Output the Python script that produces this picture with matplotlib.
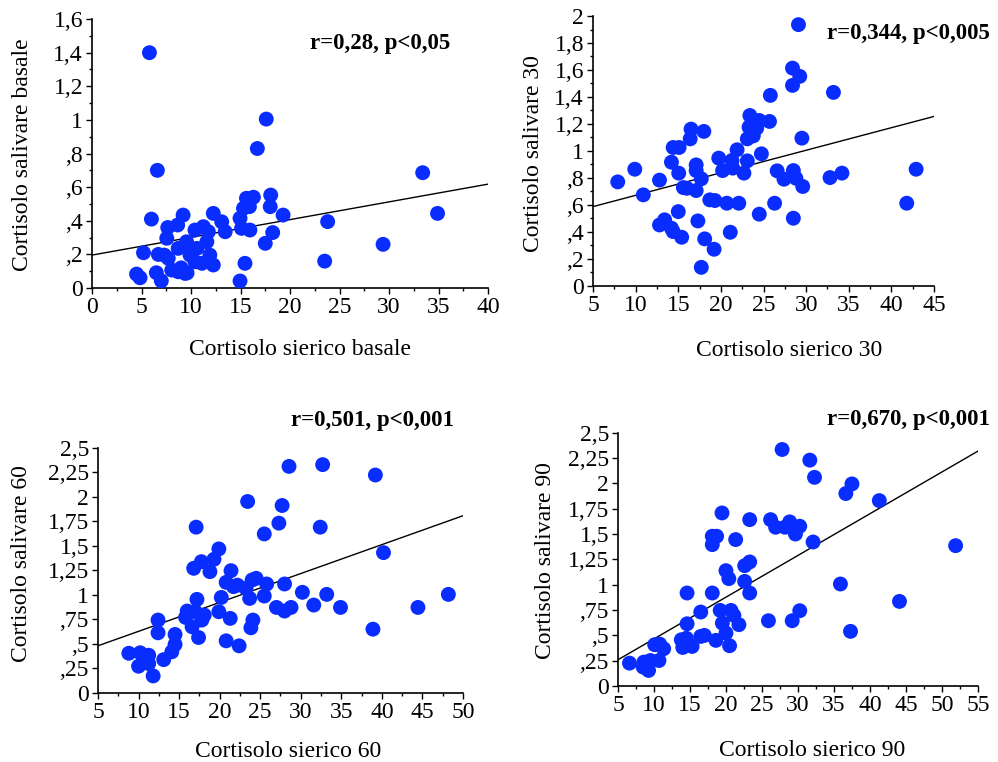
import matplotlib
matplotlib.use("Agg")
import matplotlib.pyplot as plt
from matplotlib.ticker import MultipleLocator, FuncFormatter

plt.rcParams['font.family'] = ['Liberation Serif', 'DejaVu Serif']

# --- data ---
# basale
x_basale = [5.8, 6.6, 6.0, 5.2, 4.5, 4.85, 6.5, 7.0, 6.7, 7.3, 7.7, 7.65, 7.55, 8.65,
            9.2, 8.05, 8.7, 9.4, 8.7, 9.55, 9.9, 10.4, 10.4, 10.6, 11.1, 11.25, 11.75,
            11.6, 11.9, 12.25, 12.25, 13.1, 13.45, 14.95, 15.3, 15.6, 15.1, 15.95, 15.45,
            14.95, 15.9, 16.3, 16.7, 17.6, 18.05, 18.0, 17.5, 18.25, 19.3, 23.5, 23.8,
            29.4, 33.4, 34.9, 9.6, 9.0]
y_basale = [1.40, 0.70, 0.41, 0.21, 0.083, 0.061, 0.091, 0.043, 0.20, 0.196, 0.177, 0.36,
            0.296, 0.375, 0.434, 0.107, 0.097, 0.087, 0.236, 0.275, 0.196, 0.345, 0.156,
            0.236, 0.147, 0.365, 0.335, 0.275, 0.196, 0.137, 0.444, 0.394, 0.335, 0.415,
            0.474, 0.534, 0.355, 0.345, 0.147, 0.042, 0.484, 0.54, 0.83, 1.005, 0.553,
            0.484, 0.266, 0.33, 0.434, 0.16, 0.395, 0.26, 0.686, 0.444, 0.09, 0.12]

# 30 min
x_30 = [29.1, 28.4, 29.25, 28.4, 33.2, 25.8, 23.4, 24.5, 25.7, 23.3, 24.2, 23.8, 23.1,
        29.5, 16.5, 18.0, 16.4, 14.4, 15.1, 21.9, 24.75, 19.75, 21.3, 23.1, 14.2, 17.1,
        21.4, 17.1, 20.2, 15.05, 22.7, 26.6, 28.5, 9.9, 42.9, 34.2, 32.8, 7.9, 12.8,
        17.7, 27.4, 28.8, 29.6, 15.6, 16.0, 17.1, 10.9, 18.7, 19.3, 20.7, 22.1, 26.3,
        41.8, 15.0, 24.5, 28.5, 13.4, 12.8, 17.3, 14.2, 14.4, 21.1, 15.4, 18.1, 19.2, 17.7]
y_30 = [1.936, 1.614, 1.553, 1.486, 1.434, 1.412, 1.263, 1.226, 1.219, 1.177, 1.169, 1.112,
        1.09, 1.095, 1.162, 1.145, 1.09, 1.026, 1.026, 1.009, 0.979, 0.947, 0.93, 0.927,
        0.917, 0.897, 0.873, 0.855, 0.855, 0.836, 0.836, 0.853, 0.855, 0.865, 0.865,
        0.836, 0.803, 0.771, 0.784, 0.794, 0.791, 0.798, 0.737, 0.729, 0.724, 0.707,
        0.675, 0.638, 0.633, 0.613, 0.613, 0.613, 0.613, 0.551, 0.532, 0.502, 0.49,
        0.452, 0.482, 0.428, 0.403, 0.398, 0.361, 0.349, 0.272, 0.138]

# 60 min
x_60 = [28.55, 32.7, 39.2, 23.45, 27.7, 27.3, 17.1, 32.4, 25.5, 19.9, 40.2, 19.3, 17.75,
        16.8, 18.8, 21.4, 24.5, 24.0, 20.8, 25.8, 28.0, 21.7, 22.2, 23.25, 30.2, 33.2,
        48.2, 25.5, 20.2, 23.7, 17.2, 31.6, 34.9, 44.45, 27.0, 28.8, 28.0, 16.0, 17.0,
        18.1, 15.8, 19.9, 21.3, 17.8, 12.4, 24.1, 23.85, 16.6, 38.9, 12.4, 14.5, 17.4,
        20.8, 14.5, 22.4, 14.1, 8.8, 10.2, 11.25, 10.6, 10.0, 11.25, 13.1, 11.8]
y_60 = [2.312, 2.33, 2.224, 1.954, 1.913, 1.733, 1.692, 1.692, 1.623, 1.47, 1.432, 1.364,
        1.34, 1.272, 1.238, 1.248, 1.17, 1.153, 1.129, 1.112, 1.112, 1.085, 1.10, 1.067,
        1.027, 1.006, 1.006, 0.989, 0.975, 0.965, 0.955, 0.897, 0.873, 0.873, 0.873,
        0.873, 0.836, 0.836, 0.829, 0.795, 0.771, 0.829, 0.761, 0.744, 0.744, 0.744,
        0.665, 0.675, 0.651, 0.614, 0.597, 0.566, 0.532, 0.495, 0.481, 0.42, 0.405,
        0.41, 0.385, 0.334, 0.273, 0.30, 0.34, 0.174]

# 90 min
x_90 = [27.8, 31.65, 32.3, 37.5, 36.65, 41.3, 19.45, 23.3, 26.2, 26.9, 28.2, 28.85, 30.25,
        29.65, 18.1, 18.7, 18.1, 21.35, 32.1, 51.9, 23.3, 22.6, 20.0, 20.4, 22.6, 35.9,
        14.6, 18.1, 23.3, 44.1, 16.5, 19.2, 20.7, 21.1, 30.25, 19.5, 14.6, 21.8, 25.9,
        29.2, 37.3, 20.0, 16.5, 17.0, 18.6, 13.8, 14.5, 14.0, 15.3, 20.5, 10.1, 10.8,
        11.35, 10.7, 9.5, 8.6, 6.6, 8.5, 9.25, 9.1]
y_90 = [2.335, 2.23, 2.06, 1.995, 1.90, 1.83, 1.708, 1.642, 1.642, 1.567, 1.567, 1.62,
        1.577, 1.50, 1.478, 1.478, 1.395, 1.445, 1.421, 1.385, 1.224, 1.187, 1.138, 1.059,
        1.032, 1.006, 0.917, 0.917, 0.917, 0.834, 0.729, 0.745, 0.745, 0.696, 0.742,
        0.62, 0.613, 0.604, 0.643, 0.643, 0.538, 0.521, 0.488, 0.498, 0.449, 0.455, 0.47,
        0.379, 0.389, 0.396, 0.406, 0.412, 0.366, 0.25, 0.25, 0.234, 0.224, 0.185, 0.152,
        0.218]

# regression lines (intercept, slope) and annotations
fit_intercept = [0.196, 0.5045, 0.334, 0.051]
fit_slope = [0.01055, 0.0167, 0.02949, 0.04124]
stats_text = ["r=0,28, p<0,05", "r=0,344, p<0,005", "r=0,501, p<0,001", "r=0,670, p<0,001"]
x_labels = ["Cortisolo sierico basale", "Cortisolo sierico 30",
            "Cortisolo sierico 60", "Cortisolo sierico 90"]
y_labels = ["Cortisolo salivare basale", "Cortisolo salivare 30",
            "Cortisolo salivare 60", "Cortisolo salivare 90"]


def comma_fmt(v, pos):
    s = f"{v:g}".replace(".", ",")
    if s.startswith("0,"):
        s = s[1:]
    return s


fig = plt.figure(figsize=(9.98, 7.62), dpi=100)

panels = [
    # rect, xlim, ylim, xstep, ystep, yminor, xlabel pos, ylabel pos, text pos
    ([0.0922, 0.622, 0.3968, 0.353], (0, 40), (0, 1.6), 5, 0.2, 0.1,
     (0.525, -0.19), (-0.15, 0.494), (0.904, 0.91)),
    ([0.5942, 0.6247, 0.3417, 0.3543], (5, 45), (0, 2), 5, 0.2, 0.1,
     (0.575, -0.2), (-0.145, 0.49), (1.164, 0.937)),
    ([0.0982, 0.0906, 0.3657, 0.3215], (5, 50), (0, 2.5), 5, 0.25, None,
     (0.52, -0.195), (-0.18, 0.527), (0.975, 1.114)),
    ([0.6192, 0.100, 0.3607, 0.332], (5, 55), (0, 2.5), 5, 0.25, None,
     (0.54, -0.215), (-0.173, 0.494), (1.033, 1.051)),
]
xs = [x_basale, x_30, x_60, x_90]
ys = [y_basale, y_30, y_60, y_90]

for i, (rect, xl, yl, xstep, ystep, yminor, xlp, ylp, tp) in enumerate(panels):
    ax = fig.add_axes(rect)
    ax.scatter(xs[i], ys[i], s=115, color='#0A2DFF', edgecolors='none',
               zorder=3, clip_on=False)
    ax.plot(list(xl), [fit_intercept[i] + fit_slope[i] * v for v in xl],
            color='black', lw=1.0, zorder=2)
    ax.set_xlim(*xl)
    ax.set_ylim(*yl)
    ax.spines['top'].set_visible(False)
    ax.spines['right'].set_visible(False)
    for sp in ('left', 'bottom'):
        ax.spines[sp].set_linewidth(1.2)
    ax.xaxis.set_major_locator(MultipleLocator(xstep))
    ax.xaxis.set_minor_locator(MultipleLocator(xstep / 2))
    ax.yaxis.set_major_locator(MultipleLocator(ystep))
    if yminor:
        ax.yaxis.set_minor_locator(MultipleLocator(yminor))
    ax.yaxis.set_major_formatter(FuncFormatter(comma_fmt))
    ax.tick_params(which='major', direction='out', length=4.5, width=1, labelsize=17, pad=2)
    ax.tick_params(which='minor', direction='out', length=2.5, width=1)
    ax.set_xlabel(x_labels[i], fontsize=17)
    ax.set_ylabel(y_labels[i], fontsize=17)
    ax.xaxis.set_label_coords(*xlp)
    ax.yaxis.set_label_coords(*ylp)
    ax.text(tp[0], tp[1], stats_text[i], transform=ax.transAxes, ha='right',
            va='center', fontsize=16.5, fontweight='bold')

fig.savefig("out.png", dpi=100)
